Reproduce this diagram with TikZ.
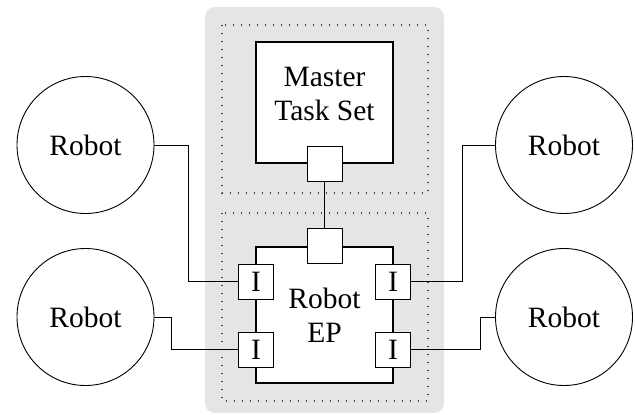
\documentclass[tikz,border=0pt]{standalone}
\usepackage{fontspec}
\setmainfont{Liberation Serif}
\begin{document}
\begin{tikzpicture}[x=1pt,y=-1pt,
  every node/.style={font=\fontsize{29.5}{34}\selectfont, inner sep=0pt},
  bigbox/.style={draw, line width=2pt, fill=white, minimum width=137, minimum height=121},
  portbox/.style={draw, line width=0.9pt, fill=white, minimum size=35},
  robot/.style={draw, circle, line width=0.9pt, minimum size=137},
  wire/.style={line width=0.9pt},
  region/.style={black!75, line width=1.2pt, dash pattern=on 1.2pt off 6.8pt}]
\useasboundingbox (0,0) rectangle (635,415);

% shaded area and its two dotted parts
\fill [black!10, rounded corners=10] (205,7) rectangle (444,413);
\draw [region] (222,25) rectangle (428,193);
\draw [region] (222,213) rectangle (428,401);

% master task set
\node [bigbox] (mts) at (324.5,102.5) {};
\node [align=center] (mtstext) at ([yshift=9pt]mts.center) {Master\\Task Set};
\node [portbox] (mtsport) at (mts.south) {};

% robot EP
\node [bigbox, minimum height=136, align=center] (ep) at (324.5,315) {Robot\\EP};
\node [portbox] (epport) at (ep.north) {};
\node [portbox] (il1) at (256,281.5) {I};
\node [portbox] (il2) at (256,349.5) {I};
\node [portbox] (ir1) at (393,281.5) {I};
\node [portbox] (ir2) at (393,349.5) {I};

% robots
\node [robot] (rl1) at (85.5,145) {Robot};
\node [robot] (rl2) at (85.5,317) {Robot};
\node [robot] (rr1) at (564,145) {Robot};
\node [robot] (rr2) at (564,317) {Robot};

% wires
\draw [wire] (mtsport) -- (epport);
\draw [wire] (rl1.east) -- +(34,0) |- (il1.west);
\draw [wire] (rl2.east) -- +(17,0) |- (il2.west);
\draw [wire] (ir1.east) -- +(51,0) |- (rr1.west);
\draw [wire] (ir2.east) -- +(69,0) |- (rr2.west);
\end{tikzpicture}
\end{document}
